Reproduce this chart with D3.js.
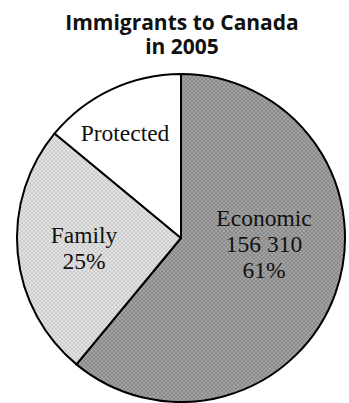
<!DOCTYPE html>
<html>
<head>
<meta charset="utf-8">
<script src="https://cdn.jsdelivr.net/npm/d3@7"></script>
<style>
  body { margin: 0; background: #fff; }
</style>
</head>
<body>
<svg id="chart"></svg>
<script>
// data
const categories = ["Economic", "Family", "Protected"];
const percents = [61, 25, 14];
const counts = ["156 310", null, null];
const titleLines = ["Immigrants to Canada", "in 2005"];

const width = 349, height = 403;
const cx = 181, cy = 238, radius = 164;

const svg = d3.select("#chart")
    .attr("width", width)
    .attr("height", height);

// grainy fills like the printed original
const defs = svg.append("defs");
function grain(id, c1, c2) {
  const p = defs.append("pattern")
      .attr("id", id)
      .attr("width", 4).attr("height", 4)
      .attr("patternUnits", "userSpaceOnUse");
  p.append("rect").attr("width", 4).attr("height", 4).attr("fill", c1);
  p.append("rect").attr("width", 2).attr("height", 2).attr("fill", c2);
  p.append("rect").attr("x", 2).attr("y", 2).attr("width", 2).attr("height", 2).attr("fill", c2);
}
grain("econ", "#a2a2a2", "#8a8a8a");
grain("fam", "#e2e2e2", "#cdcdcd");

const fills = d3.scaleOrdinal()
    .domain(categories)
    .range(["url(#econ)", "url(#fam)", "#ffffff"]);

const pie = d3.pie().sort(null).value(d => d.value);
const data = categories.map((c, i) => ({name: c, value: percents[i], count: counts[i]}));
const arcs = pie(data);

const arc = d3.arc().innerRadius(0).outerRadius(radius);

const g = svg.append("g")
    .attr("transform", `translate(${cx},${cy})`);

g.selectAll("path.slice")
    .data(arcs)
    .enter()
    .append("path")
      .attr("class", "slice")
      .attr("d", arc)
      .attr("fill", d => fills(d.data.name))
      .attr("stroke", "#000")
      .attr("stroke-width", 2)
      .attr("stroke-linejoin", "round");

// labels (positions picked by eye from the original)
const labelPos = {
  Economic: [83, -12],
  Family: [-97, 5],
  Protected: [-56, -97]
};

arcs.forEach(d => {
  const lines = [d.data.name];
  if (d.data.count) lines.push(d.data.count);
  if (d.data.name !== "Protected") lines.push(d.data.value + "%");
  const [lx, ly] = labelPos[d.data.name];
  const t = g.append("text")
      .attr("x", lx)
      .attr("y", ly)
      .attr("text-anchor", "middle")
      .attr("font-family", "'Liberation Serif', 'DejaVu Serif', serif")
      .attr("font-size", 23.5)
      .attr("fill", "#111");
  lines.forEach((l, i) => {
    t.append("tspan").attr("x", lx).attr("dy", i === 0 ? 0 : 26).text(l);
  });
});

// title
svg.append("g").selectAll("text")
    .data(titleLines)
    .enter()
    .append("text")
      .attr("x", 182)
      .attr("y", (d, i) => 30 + i * 24)
      .attr("text-anchor", "middle")
      .attr("font-family", "'Open Sans', 'DejaVu Sans', sans-serif")
      .attr("font-weight", "bold")
      .attr("font-size", 21)
      .attr("fill", "#111")
      .text(d => d);
</script>
</body>
</html>
